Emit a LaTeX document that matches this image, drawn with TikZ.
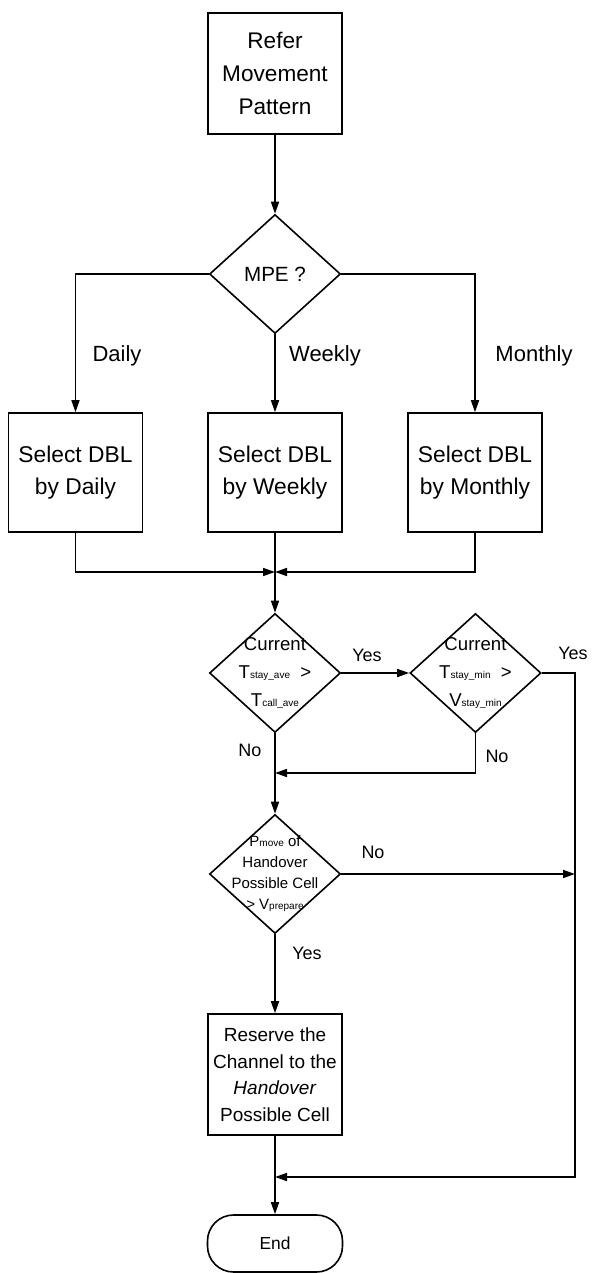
\documentclass[tikz,border=0pt]{standalone}
\usepackage{fontspec}
\setmainfont{Liberation Sans}
\usetikzlibrary{shapes.geometric,arrows.meta}

\newcommand{\sub}[1]{{\fontsize{5}{5}\selectfont #1}}

\begin{document}
\begin{tikzpicture}[x=0.5pt,y=-0.5pt,
    every node/.style={inner sep=0pt},
    box/.style={draw,line width=0.8pt,align=center,minimum width=67pt},
    decision/.style={draw,diamond,line width=0.8pt,minimum width=65.5pt,minimum height=59.5pt},
    dtext/.style={align=center},
    terminal/.style={draw,line width=0.8pt,rounded corners=13pt,minimum width=67.5pt,minimum height=28.5pt},
    lbl/.style={font=\fontsize{11}{11}\selectfont},
    yn/.style={font=\fontsize{9}{9}\selectfont},
    line/.style={line width=0.8pt},
    flow/.style={line width=0.8pt,-{Triangle[length=6pt,width=4pt]}}
]
\useasboundingbox (0,0) rectangle (591,1273);

% start and pattern choice
\node[box,minimum height=60.5pt,font=\fontsize{11.3}{16.5}\selectfont] (refer) at (275,73.5) {Refer\\Movement\\Pattern};
\node[decision] (mpe) at (275,274) {};
\node[dtext,font=\fontsize{10.3}{12}\selectfont] (mpet) at (mpe) {MPE ?};

\node[box,minimum height=59.5pt,font=\fontsize{11.4}{16}\selectfont] (daily) at (75.5,472.5) {Select DBL\\by Daily};
\node[box,minimum height=59.5pt,font=\fontsize{11.4}{16}\selectfont] (weekly) at (275,472.5) {Select DBL\\by Weekly};
\node[box,minimum height=59.5pt,font=\fontsize{11.4}{16}\selectfont] (monthly) at (475,472.5) {Select DBL\\by Monthly};

\node[lbl] (ldaily) at (117,356) {Daily};
\node[lbl] (lweekly) at (325,356) {Weekly};
\node[lbl] (lmonthly) at (534,356) {Monthly};

% stay time checks
\node[decision] (cmp1) at (275,673) {};
\node[dtext,font=\fontsize{9.3}{14.2}\selectfont] (cmp1t) at (cmp1)
    {Current\\T\sub{stay\_ave}\ \ >\\T\sub{call\_ave}};
\node[decision] (cmp2) at (475.5,673) {};
\node[dtext,font=\fontsize{9.3}{14.2}\selectfont] (cmp2t) at (cmp2)
    {Current\\T\sub{stay\_min}\ \ >\\V\sub{stay\_min}};

\node[decision] (pmove) at (275,874) {};
\node[dtext,font=\fontsize{7.5}{10.5}\selectfont] (pmovet) at (pmove)
    {P\sub{move}\ of\\Handover\\Possible Cell\\> V\sub{prepare}};

\node[box,minimum height=60.5pt,font=\fontsize{9.5}{13.3}\selectfont] (reserve) at (275,1074.5)
    {Reserve the\\Channel to the\\\textit{Handover}\\Possible Cell};
\node[terminal,font=\fontsize{8.7}{10}\selectfont] (endnode) at (275,1243.5) {End};

\node[yn] (yes1) at (367,655) {Yes};
\node[yn] (yes2) at (573,653) {Yes};
\node[yn] (no1) at (250,750) {No};
\node[yn] (no2) at (497,756) {No};
\node[yn] (no3) at (373,852) {No};
\node[yn] (yes3) at (307,953) {Yes};

\coordinate (merge) at (275,572);
\coordinate (join1) at (275,773);
\coordinate (join2) at (275,1177);
\coordinate (rtop) at (575,673);
\coordinate (rtap) at (575,874);
\coordinate (rbot) at (575,1177);

% connectors
\draw[flow] (refer) -- (mpe);
\draw[flow] (mpe.west) -| (daily.north);
\draw[flow] (mpe.south) -- (weekly.north);
\draw[flow] (mpe.east) -| (monthly.north);
\draw[flow] (daily.south) |- (merge);
\draw[flow] (monthly.south) |- (merge);
\draw[flow] (weekly.south) -- (cmp1.north);
\draw[flow] (cmp1.east) -- (cmp2.west);
\draw[flow] (cmp2.south) |- (join1);
\draw[flow] (cmp1.south) -- (pmove.north);
\draw[flow] (cmp2.east) -- (rtop) -- (rbot) -- (join2);
\draw[flow] (pmove.east) -- (rtap);
\draw[flow] (pmove.south) -- (reserve.north);
\draw[flow] (reserve.south) -- (endnode.north);
\end{tikzpicture}
\end{document}
